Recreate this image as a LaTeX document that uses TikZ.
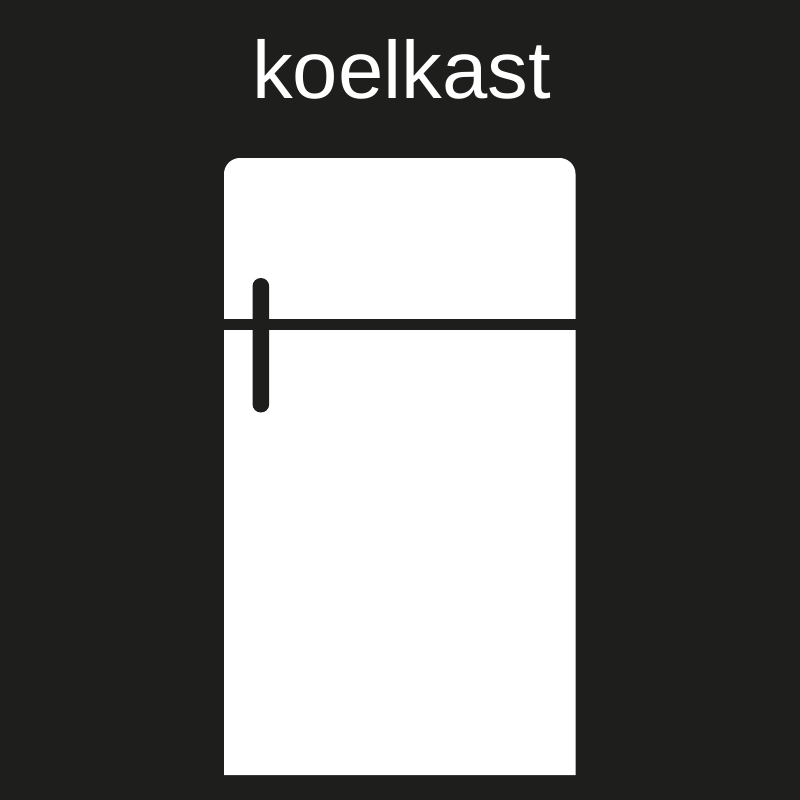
\documentclass[tikz,border=0pt]{standalone}
\usepackage{fontspec}
\setmainfont{Liberation Sans}
\definecolor{bgc}{HTML}{1E1E1C}
\begin{document}
\begin{tikzpicture}[x=1pt,y=-1pt,
  gap/.style={fill=bgc,draw=none}]
\fill[bgc] (0,0) rectangle (800,800);
\useasboundingbox (0,0) rectangle (800,800);
\node[text=white,font=\fontsize{81.5}{81.5}\selectfont,anchor=base,inner sep=0pt] (title) at (401.5,98) {koelkast};
\fill[white] (224,775) -- (224,174) .. controls (224,165.2) and (231.2,158) .. (240,158) -- (559.5,158) .. controls (568.3,158) and (575.5,165.2) .. (575.5,174) -- (575.5,775) -- cycle;
\fill[gap] (224,319) rectangle (576,330);
\fill[gap,rounded corners=8.3pt] (252.5,278) rectangle (269.2,412.5);
\end{tikzpicture}
\end{document}
